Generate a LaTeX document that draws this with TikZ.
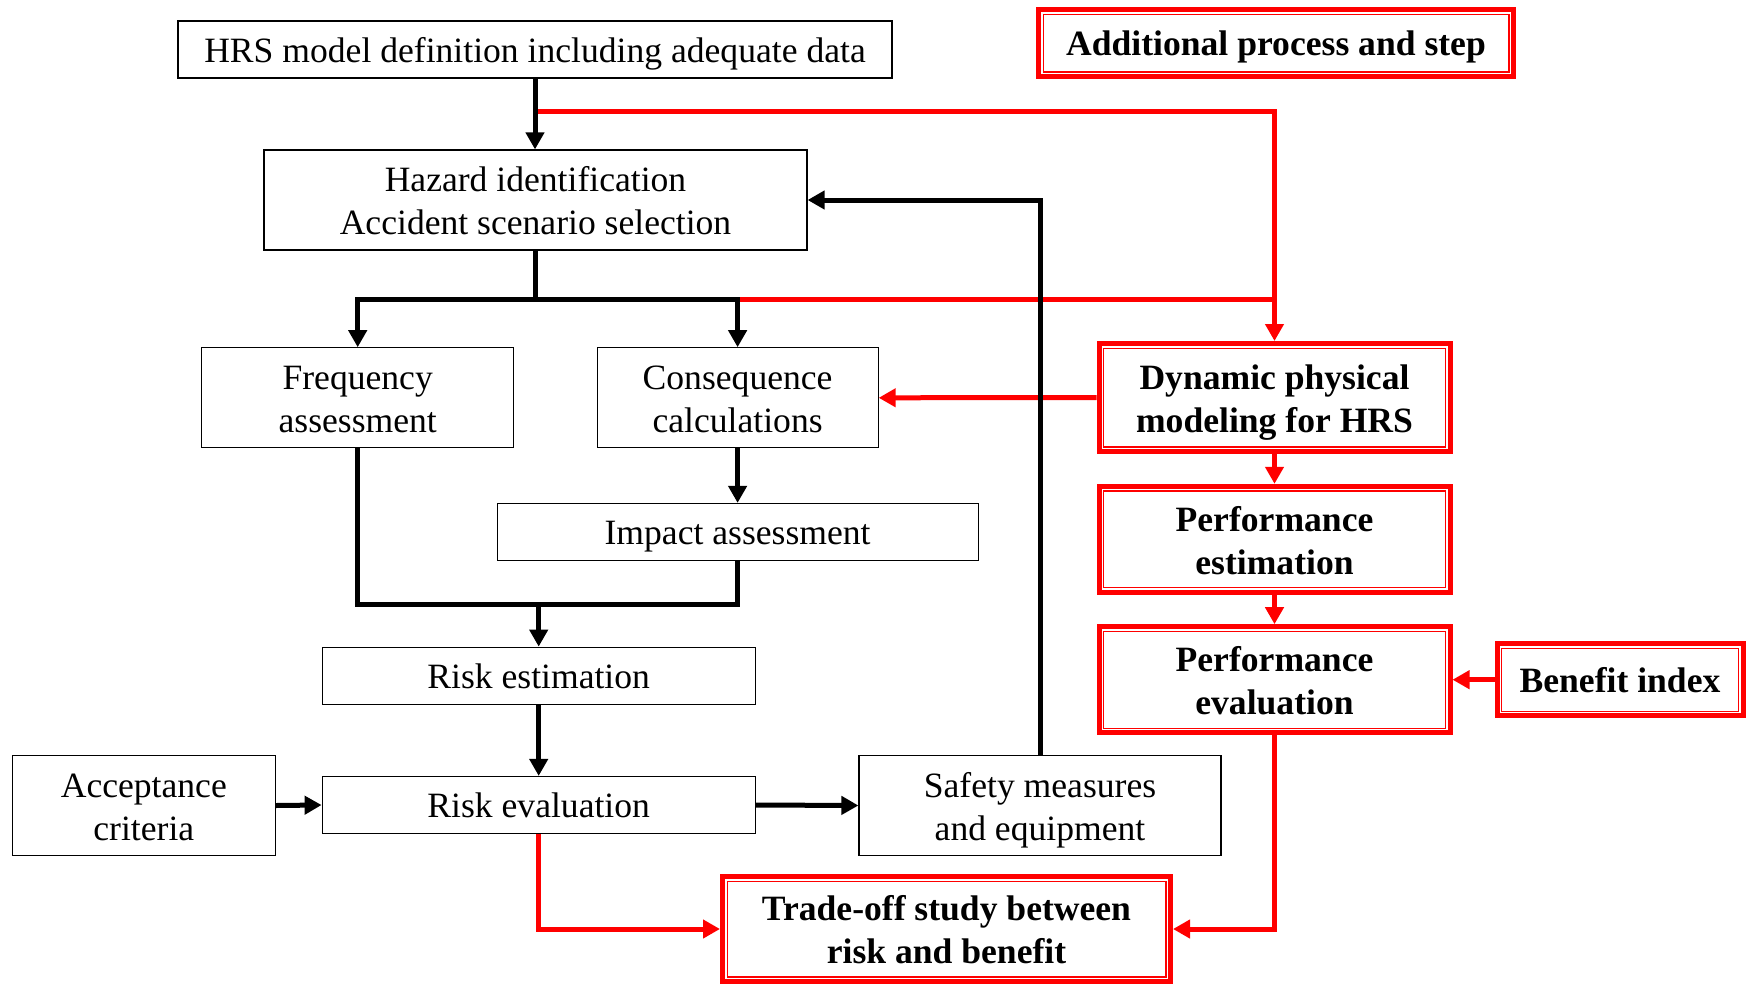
\documentclass[tikz,border=0pt]{standalone}
\usepackage{fontspec}
\setmainfont{Liberation Serif}
\usetikzlibrary{arrows.meta}

% invisible struts that fix the height and depth of the text lines
\newcommand{\linestrut}{\rule[-4pt]{0pt}{20.8pt}}
\newcommand{\toplinestrut}{\rule[-4pt]{0pt}{21.4pt}}

\begin{document}
\begin{tikzpicture}[x=0.5pt,y=-0.5pt,
  box/.style={draw=black, line width=0.6pt, fill=white, align=center,
    font=\fontsize{17.8}{21.5}\selectfont, inner sep=0pt,
    execute at begin node=\linestrut, execute at end node=\linestrut},
  redbox/.style={draw=red, line width=2.5pt, fill=white, align=center,
    font=\fontsize{17.8}{21.5}\selectfont\bfseries, inner sep=0pt,
    execute at begin node=\linestrut, execute at end node=\linestrut,
    path picture={\draw[red, line width=0.6pt]
      ([shift={(2.3pt,-2.3pt)}]path picture bounding box.north west) rectangle
      ([shift={(-2.3pt,2.3pt)}]path picture bounding box.south east);}},
  link/.style={draw=black, line width=2.5pt, -{Triangle[length=8.5pt,width=9pt]}},
  rlink/.style={draw=red, line width=2.5pt, -{Triangle[length=8.5pt,width=9pt]}, color=red},
  wire/.style={draw=black, line width=2.5pt},
  rwire/.style={draw=red, line width=2.5pt}
]
\useasboundingbox (0,0) rectangle (1747,986);

% main risk assessment chain
\node[box, minimum width=357pt, minimum height=28.5pt] (hrs) at (535,49.5) {HRS model definition including adequate data};
\node[box, minimum width=271.5pt, minimum height=50pt] (haz) at (535.5,200) {\toplinestrut Hazard identification\\Accident scenario selection};
\node[box, minimum width=156pt, minimum height=50pt] (freq) at (357.7,397.8) {\toplinestrut Frequency\\assessment};
\node[box, minimum width=140.5pt, minimum height=50pt] (cons) at (737.6,397.8) {\toplinestrut Consequence\\calculations};
\node[box, minimum width=240.5pt, minimum height=28.5pt] (imp) at (737.6,532) {Impact assessment};
\node[box, minimum width=216.5pt, minimum height=28.5pt] (rest) at (538.7,675.7) {Risk estimation};
\node[box, minimum width=216.5pt, minimum height=28.5pt] (reval) at (538.7,805) {Risk evaluation};
\node[box, minimum width=131.5pt, minimum height=50pt] (acc) at (143.8,805.5) {\toplinestrut Acceptance\\criteria};
\node[box, minimum width=181pt, minimum height=50pt] (safe) at (1040,805.5) {\toplinestrut Safety measures\\and equipment};

% additional steps
\node[redbox, minimum width=237.5pt, minimum height=33.5pt] (add) at (1276,43) {Additional process and step};
\node[redbox, minimum width=175.5pt, minimum height=54pt] (dyn) at (1274.5,397.5) {\toplinestrut Dynamic physical\\modeling for HRS};
\node[redbox, minimum width=175.5pt, minimum height=53pt] (pest) at (1274.5,539.3) {\toplinestrut Performance\\estimation};
\node[redbox, minimum width=175.5pt, minimum height=53pt] (peval) at (1274.5,679.7) {\toplinestrut Performance\\evaluation};
\node[redbox, minimum width=123pt, minimum height=36pt] (ben) at (1620,679.7) {Benefit index};
\node[redbox, minimum width=224pt, minimum height=52.5pt] (trade) at (946.5,929) {\toplinestrut Trade-off study between\\risk and benefit};

% junction levels
\coordinate (j1) at (0,111.5);
\coordinate (j2) at (0,299);
\coordinate (j3) at (0,604);

% red connectors
\draw[rlink] (hrs.south |- j1) -| (dyn.north);
\draw[rwire] (cons.north |- j2) -- (dyn.north |- j2);
\draw[rlink] (dyn.west) -- (cons.east);
\draw[rlink] (dyn.south) -- (pest.north);
\draw[rlink] (pest.south) -- (peval.north);
\draw[rlink] (ben.west) -- (peval.east);
\draw[rlink] (peval.south) |- (trade.east);
\draw[rlink] (reval.south) |- (trade.west);

% black connectors
\draw[link] (hrs.south) -- (hrs.south |- haz.north);
\draw[wire] (haz.south) -- (haz.south |- j2);
\draw[link] (haz.south |- j2) -| (freq.north);
\draw[link] (haz.south |- j2) -| (cons.north);
\draw[link] (cons.south) -- (imp.north);
\draw[wire] (freq.south) |- (imp.south |- j3) -- (imp.south);
\draw[link] (rest.north |- j3) -- (rest.north);
\draw[link] (rest.south) -- (reval.north);
\draw[link] (acc.east) -- (reval.west);
\draw[link] (reval.east) -- (safe.west);
\draw[link] (safe.north) |- (haz.east);
\end{tikzpicture}
\end{document}
